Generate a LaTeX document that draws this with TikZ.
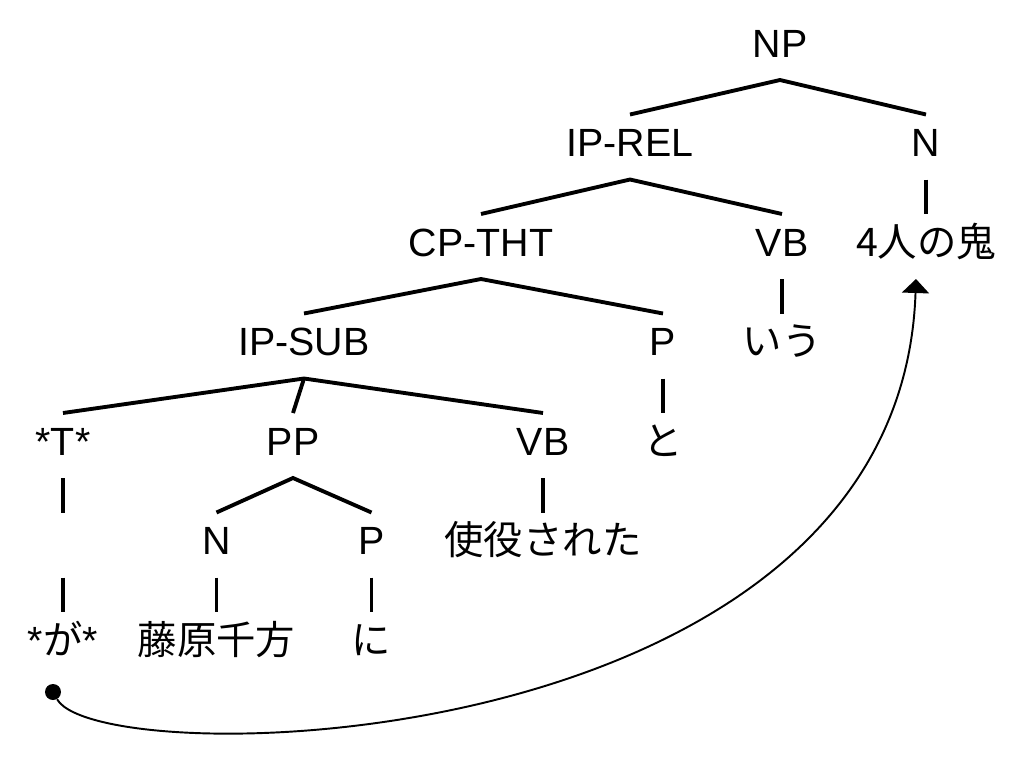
\documentclass[tikz,border=0pt]{standalone}
\usepackage{fontspec}
\setmainfont{Liberation Sans}
\newfontfamily\jp{Noto Sans CJK JP}
\usetikzlibrary{arrows.meta}
\tikzset{
    cat/.style={anchor=base, font=\fontsize{22.4}{27}\selectfont, text height=0.56cm, text depth=0.18cm, inner xsep=0pt, inner ysep=0.28cm, outer sep=0pt},
    branch/.style={line width=2.2pt},
    trace/.style={fill, circle, inner sep=0pt, minimum size=0.32cm},
    movement/.style={-{Triangle[width=0.54cm, length=0.28cm]}, line width=1.1pt}
}

\begin{document}
\begin{tikzpicture}
    \useasboundingbox (0,0) rectangle (20.48,-15.18);
    % Row 0
    \node[cat] (np) at (15.6,-1.14) {NP};
    % Row 1
    \node[cat] (iprel) at (12.6,-3.13) {IP-REL};
    \node[cat] (n1) at (18.52,-3.13) {N};
    % Row 2
    \node[cat] (cptht) at (9.62,-5.12) {CP-THT};
    \node[cat] (vb1) at (15.64,-5.12) {VB};
    \node[cat] (oni) at (18.52,-5.12) {\jp 4人の鬼};
    % Row 3
    \node[cat] (ipsub) at (6.08,-7.11) {IP-SUB};
    \node[cat] (p1) at (13.26,-7.11) {P};
    \node[cat] (iu) at (15.64,-7.11) {\jp いう};
    % Row 4
    \node[cat] (t) at (1.26,-9.10) {*T*};
    \node[cat] (pp) at (5.86,-9.10) {PP};
    \node[cat] (vb2) at (10.86,-9.10) {VB};
    \node[cat] (to) at (13.26,-9.10) {\jp と};
    % Row 5
    \node[cat] (gap) at (1.26,-11.09) {};
    \node[cat] (n2) at (4.33,-11.09) {N};
    \node[cat] (p2) at (7.43,-11.09) {P};
    \node[cat] (shieki) at (10.86,-11.09) {\jp 使役された};
    % Row 6
    \node[cat] (ga) at (1.26,-13.08) {*{\jp が}*};
    \node[cat] (chikata) at (4.33,-13.08) {\jp 藤原千方};
    \node[cat] (ni) at (7.43,-13.08) {\jp に};
    % Branches
    \draw[branch] (iprel.north) -- (np.south) -- (n1.north);
    \draw[branch] (n1.south) -- (oni.north);
    \draw[branch] (cptht.north) -- (iprel.south) -- (vb1.north);
    \draw[branch] (vb1.south) -- (iu.north);
    \draw[branch] (ipsub.north) -- (cptht.south) -- (p1.north);
    \draw[branch] (p1.south) -- (to.north);
    \draw[branch] (t.north) -- (ipsub.south) -- (vb2.north);
    \draw[branch] (ipsub.south) -- (pp.north);
    \draw[branch] (t.south) -- (gap.north);
    \draw[branch] (gap.south) -- (ga.north);
    \draw[branch] (n2.north) -- (pp.south) -- (p2.north);
    \draw[branch] (vb2.south) -- (shieki.north);
    \draw[branch] (n2.south) -- (chikata.north);
    \draw[branch] (p2.south) -- (ni.north);
    % Trace and its antecedent
    \node[trace] (dot) at (1.06,-13.84) {};
    \coordinate (head) at ([xshift=-0.2cm]oni.south);
    \draw[movement] (dot) .. controls (2.0,-15.5) and (18.0,-15.2) .. (head);
\end{tikzpicture}
\end{document}
